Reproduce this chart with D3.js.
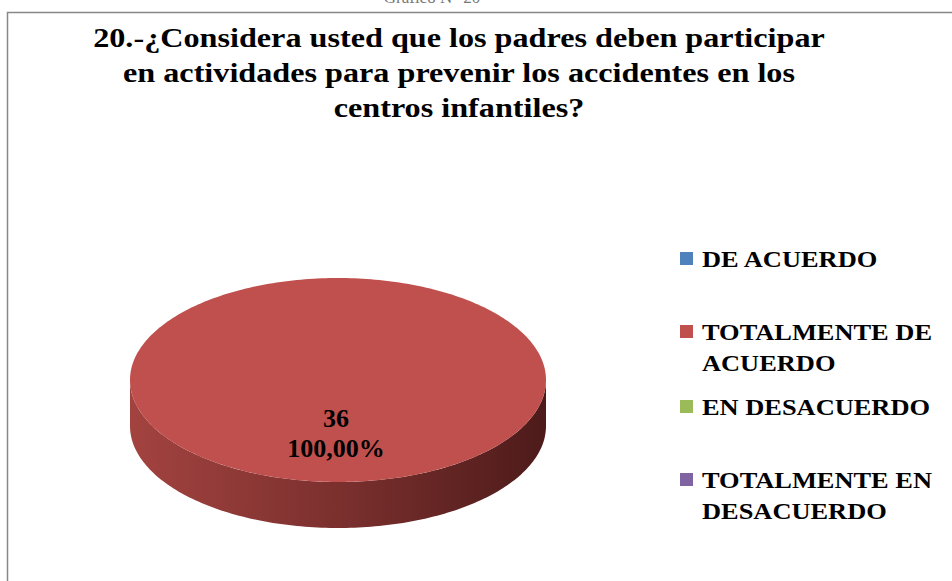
<!DOCTYPE html>
<html>
<head>
<meta charset="utf-8">
<script src="https://cdn.jsdelivr.net/npm/d3@7"></script>
<style>
  html, body { margin: 0; padding: 0; background: #fff; }
  svg { display: block; }
  text { font-family: 'Liberation Serif', Tinos, 'Times New Roman', serif; }
</style>
</head>
<body>
<svg id="chart"></svg>
<script>
// chart data
const categories = ['DE ACUERDO', 'TOTALMENTE DE ACUERDO', 'EN DESACUERDO', 'TOTALMENTE EN DESACUERDO'];
const counts = [0, 36, 0, 0];
const colors = ['#4F81BD', '#C0504D', '#9BBB59', '#8064A2'];
const sideDark = ['#2C4A6E', '#4D1B1A', '#5A6E33', '#4A3A60'];
const titleLines = [
  '20.-¿Considera usted que los padres deben participar',
  'en actividades para prevenir los accidentes en los',
  'centros infantiles?'
];
const caption = 'Gráfico N° 20';

const width = 952, height = 581;

const svg = d3.select('#chart')
  .attr('width', width)
  .attr('height', height);

const defs = svg.append('defs');

// caption cut off by the top edge
svg.append('text')
  .attr('x', 432)
  .attr('y', 3)
  .attr('text-anchor', 'middle')
  .attr('font-size', 17)
  .attr('fill', '#777')
  .text(caption);

// chart frame (runs off right and bottom)
svg.append('rect')
  .attr('x', 7.5)
  .attr('y', 12.5)
  .attr('width', width + 20)
  .attr('height', height + 20)
  .attr('fill', 'none')
  .attr('stroke', '#888')
  .attr('stroke-width', 1.5);

// title (the source image is stretched a bit horizontally)
const titleX = 459, titleStretch = 1.15;
svg.append('g')
  .attr('transform', `translate(${titleX},0) scale(${titleStretch},1)`)
  .selectAll('text')
  .data(titleLines)
  .join('text')
  .attr('x', 0)
  .attr('y', (d, i) => 47 + i * 35)
  .attr('text-anchor', 'middle')
  .attr('font-size', 28)
  .attr('font-weight', 'bold')
  .attr('fill', '#000')
  .text(d => d);

// 3D pie
const cx = 338, cy = 380, rx = 208, ry = 102, depth = 46;
const total = d3.sum(counts);
const pie = d3.pie().sort(null).value(d => d)(counts);

const pt = (a, dy = 0) => [cx + rx * Math.sin(a), cy - ry * Math.cos(a) + dy];

function facePath(a0, a1) {
  const steps = Math.max(2, Math.ceil((a1 - a0) / 0.02));
  const pts = d3.range(steps + 1).map(i => pt(a0 + (a1 - a0) * i / steps));
  if (a1 - a0 < 2 * Math.PI - 1e-6) pts.unshift([cx, cy]);
  return d3.line()(pts) + 'Z';
}

function sidePath(a0, a1) {
  const s = Math.max(a0, Math.PI / 2), e = Math.min(a1, 3 * Math.PI / 2);
  if (e <= s) return null;
  const steps = Math.max(2, Math.ceil((e - s) / 0.02));
  const top = d3.range(steps + 1).map(i => pt(s + (e - s) * i / steps));
  const bottom = top.slice().reverse().map(p => [p[0], p[1] + depth]);
  return d3.line()(top.concat(bottom)) + 'Z';
}

const slices = pie.filter(d => d.value > 0);

slices.forEach(d => {
  const i = d.index;
  const grad = defs.append('linearGradient')
    .attr('id', 'side-' + i)
    .attr('gradientUnits', 'userSpaceOnUse')
    .attr('x1', cx - rx).attr('x2', cx + rx)
    .attr('y1', 0).attr('y2', 0);
  grad.append('stop').attr('offset', '0%').attr('stop-color', d3.interpolateRgb(colors[i], sideDark[i])(0.25));
  grad.append('stop').attr('offset', '50%').attr('stop-color', d3.interpolateRgb(colors[i], sideDark[i])(0.6));
  grad.append('stop').attr('offset', '100%').attr('stop-color', sideDark[i]);
});

const pieG = svg.append('g');

slices.forEach(d => {
  const p = sidePath(d.startAngle, d.endAngle);
  if (p) pieG.append('path').attr('d', p).attr('fill', `url(#side-${d.index})`);
});

slices.forEach(d => {
  pieG.append('path')
    .attr('d', facePath(d.startAngle, d.endAngle))
    .attr('fill', colors[d.index]);
});

// data labels
slices.forEach(d => {
  const full = d.endAngle - d.startAngle >= 2 * Math.PI - 1e-6;
  const mid = (d.startAngle + d.endAngle) / 2;
  const [lx, ly] = full ? [cx - 2, cy + 47] : [cx + rx * 0.6 * Math.sin(mid), cy - ry * 0.6 * Math.cos(mid)];
  const pct = (d.value / total * 100).toFixed(2).replace('.', ',') + '%';
  const t = pieG.append('text')
    .attr('text-anchor', 'middle')
    .attr('font-size', 26)
    .attr('font-weight', 'bold')
    .attr('fill', '#000');
  t.append('tspan').attr('x', lx).attr('y', ly).text(d.value);
  t.append('tspan').attr('x', lx).attr('y', ly + 30).text(pct);
});

// legend
const legendX = 680, sq = 13, maxW = 245, lineH = 31, legendStretch = 1.1;
const entryY = [252, 325, 400, 473];
const legend = svg.append('g');

categories.forEach((c, i) => {
  const g = legend.append('g').attr('transform', `translate(${legendX},${entryY[i]})`);
  g.append('rect')
    .attr('width', sq).attr('height', sq)
    .attr('fill', colors[i]);
  const text = g.append('text')
    .attr('transform', `translate(22,0) scale(${legendStretch},1)`)
    .attr('font-size', 24)
    .attr('font-weight', 'bold')
    .attr('fill', '#000');
  // word wrap
  const words = c.split(' ');
  let line = [], lineNo = 0;
  let tspan = text.append('tspan').attr('x', 0).attr('y', 15);
  words.forEach(w => {
    line.push(w);
    tspan.text(line.join(' '));
    if (tspan.node().getComputedTextLength() * legendStretch > maxW && line.length > 1) {
      line.pop();
      tspan.text(line.join(' '));
      line = [w];
      lineNo++;
      tspan = text.append('tspan').attr('x', 0).attr('y', 15 + lineNo * lineH).text(w);
    }
  });
});
</script>
</body>
</html>
